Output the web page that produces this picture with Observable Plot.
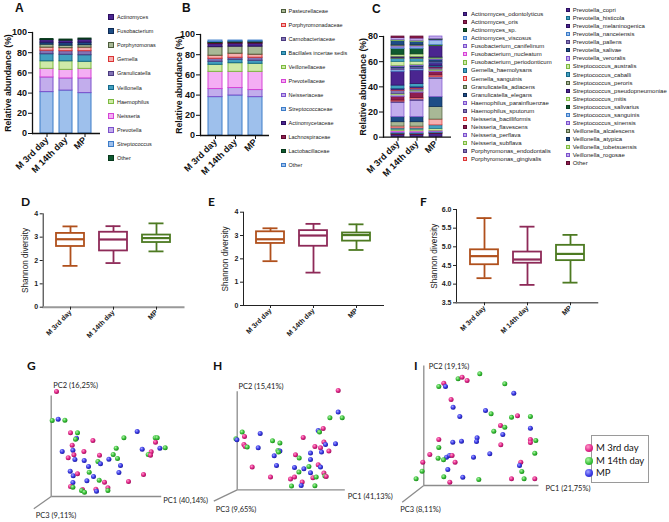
<!DOCTYPE html>
<html><head><meta charset="utf-8">
<script src="https://cdn.jsdelivr.net/npm/d3@7"></script>
<script src="https://cdn.jsdelivr.net/npm/@observablehq/plot@0.6"></script>
<style>
html,body{margin:0;padding:0;background:#fff;}
#root{position:relative;width:669px;height:522px;overflow:hidden;background:#fff;font-family:"Liberation Sans",Arial,Helvetica,sans-serif;color:#111;}
#root > *{position:absolute;}
.letter{font-weight:bold;font-size:12px;line-height:12px;}
.lg{white-space:nowrap;color:#222;}
</style></head><body><div id="root"></div>
<script>
// ---------------- DATA ----------------
const groups = ["M 3rd day", "M 14th day", "MP"];

// A: genus level relative abundance (%), stacked bottom -> top
const genusNames = ["Streptococcus","Prevotella","Neisseria","Haemophilus","Veillonella","Granulicatella","Gemella","Porphyromonas","Fusobacterium","Actinomyces","Other"];
const genusM3  = [41, 14.5, 8.5, 7.5, 7, 3.5, 3, 3, 2, 2.5, 1];
const genusM14 = [42.5, 12, 8.5, 8.5, 6.5, 3.5, 3, 2.5, 2.5, 2.5, 1];
const genusMP  = [40, 14.5, 9.5, 7, 6.5, 4, 3.5, 2.5, 2.5, 3, 1];
const genusLegend = ["Actinomyces","Fusobacterium","Porphyromonas","Gemella","Granulicatella","Veillonella","Haemophilus","Neisseria","Prevotella","Streptococcus","Other"];

// B: family level
const familyNames = ["Streptococcaceae","Neisseriaceae","Prevotellaceae","Veillonellaceae","Bacillales incertae sedis","Carnobacteriaceae","Porphyromonadaceae","Pasteurellaceae","Actinomycetaceae","Lachnospiraceae","Lactobacillaceae","Other"];
const familyM3  = [38, 8, 17, 7, 3, 3, 3, 8.5, 3, 1, 1, 1.5];
const familyM14 = [39.6, 7.4, 16, 8.6, 3.4, 2, 4, 7, 3, 1, 1, 1];
const familyMP  = [38, 7, 18, 8, 3, 3, 3, 8, 3, 1, 1, 1];
const familyLegend = ["Pasteurellaceae","Porphyromonadaceae","Carnobacteriaceae","Bacillales incertae sedis","Veillonellaceae","Prevotellaceae","Neisseriaceae","Streptococcaceae","Actinomycetaceae","Lachnospiraceae","Lactobacillaceae","Other"];

// C: species level
const speciesNames = ["Actinomyces_odontolyticus","Actinomyces_oris","Actinomyces_sp.","Actinomyces_viscosus","Fusobacterium_canifelinum","Fusobacterium_nucleatum","Fusobacterium_periodonticum","Gemella_haemolysans","Gemella_sanguinis","Granulicatella_adiacens","Granulicatella_elegans","Haemophilus_parainfluenzae","Haemophilus_sputorum","Neisseria_bacilliformis","Neisseria_flavescens","Neisseria_perflava","Neisseria_subflava","Porphyromonas_endodontalis","Porphyromonas_gingivalis","Prevotella_copri","Prevotella_histicola","Prevotella_melaninogenica","Prevotella_nanceiensis","Prevotella_pallens","Prevotella_salivae","Prevotella_veroralis","Streptococcus_australis","Streptococcus_caballi","Streptococcus_peroris","Streptococcus_pseudopneumoniae","Streptococcus_mitis","Streptococcus_salivarius","Streptococcus_sanguinis","Streptococcus_sinensis","Veillonella_alcalescens","Veillonella_atypica","Veillonella_tobetsuensis","Veillonella_rogosae","Other"];
const speciesM3  = [1.9,0.6,0.4,0.5,0.6,0.8,1.2,1.0,1.5,3.4,4.0,11.4,1.0,0.8,3.0,1.2,0.9,2.5,0.5,1.2,2.6,11.0,1.2,1.5,1.0,1.0,3.0,2.5,0.8,1.0,1.5,4.5,1.2,1.0,0.8,3.5,0.8,1.5,1.2];
const speciesM14 = [1.8,0.6,0.4,0.5,0.6,0.8,1.3,1.0,1.4,3.5,4.0,13.0,1.2,1.0,4.2,1.0,0.8,1.2,0.5,1.0,2.4,10.8,1.2,1.3,1.0,1.0,2.5,2.0,0.8,1.0,2.0,4.4,1.2,1.0,0.8,2.6,0.8,1.8,1.6];
const speciesMP  = [2.6,0.5,0.4,0.6,0.5,0.5,1.5,2.8,4.6,9.9,7.9,14.6,1.3,1.3,2.7,1.0,1.0,1.0,0.5,0.6,0.8,2.0,0.6,0.8,1.5,0.6,0.6,0.4,0.3,8.9,0.4,0.4,3.7,0.3,0.3,0.4,0.3,1.9,0];

// D-F: Shannon diversity, per group [min, q1, median, q3, max]
const shannonD = [[1.77,2.60,2.91,3.16,3.46],[1.89,2.41,2.90,3.21,3.47],[2.39,2.77,2.96,3.09,3.59]];
const shannonE = [[1.90,2.66,2.84,3.16,3.31],[1.41,2.54,3.00,3.21,3.50],[2.38,2.76,3.02,3.11,3.48]];
const shannonF = [[4.16,4.52,4.75,4.92,5.77],[3.98,4.56,4.66,4.86,5.54],[4.04,4.63,4.81,5.04,5.32]];

// G-I: PCA scores projected on the plane [group index, pc1, pc2]
const pcaG = [[0,5.3,105],[2,7,77.3],[1,1,76],[1,13.7,76.3],[0,19.3,63.7],[1,26.3,63.7],[2,25.3,58.3],[1,24.3,57.3],[0,41.7,56],[0,21,51.3],[2,11,45],[2,21.7,46.3],[0,32.7,45],[0,22.7,41.7],[2,23.7,37],[0,17,38.7],[0,48.3,41.3],[1,46.7,35],[2,49.3,32.7],[2,33,36],[2,37.3,30],[1,38,24.3],[2,19,25.3],[2,22,20.7],[0,26.3,22.7],[2,42.3,20],[2,21.7,14],[2,35.7,15.7],[1,48,16.3],[0,53.3,14.3],[0,19.3,10],[1,21.7,9.3],[0,31.3,7],[1,30.3,6],[1,33.3,4.3],[0,44.7,7.3],[2,45.3,5.3],[0,56.7,8.7],[1,56.7,6],[1,65,48.3],[1,62,42],[2,57.7,37.3],[1,66.3,38],[2,69.3,31],[2,67.7,24],[1,72.7,58.7],[2,86,65],[2,91,47.3],[0,77.3,15],[0,92.3,22],[1,104,58.7],[1,106,58.7],[0,104.3,54.3],[0,100,44.7],[1,97,42],[0,99.3,41.3],[2,108.7,48.3],[1,114,48.7]];
const pcaH = [[1,5,57.7],[0,7.3,53.3],[1,-1.3,51],[2,-0.3,50],[0,6.7,45.3],[0,8,43.3],[1,10,42.7],[2,23,56.3],[2,21,42],[1,35.3,49],[1,42.7,46.7],[1,40.7,39.3],[2,42.7,38.7],[1,41.3,37.7],[2,37,34],[2,39.3,24.3],[0,15,22.7],[0,33.3,12.7],[0,66,52.3],[0,58.3,35],[1,62,31.7],[2,66.7,21],[2,57.3,22.3],[1,61.7,17.7],[0,57.3,12.7],[0,53.3,10.7],[0,65,7.7],[2,64,4.3],[1,54.3,3.7],[0,101,99.3],[2,101,77.7],[1,92.7,72],[1,105,72],[2,81,59.3],[1,82.3,57.7],[0,86,61.3],[0,86.7,47.7],[2,88.3,45.3],[2,98.3,46],[0,77.7,43.3],[0,83.3,42],[0,91.7,38.7],[2,84.3,37.7],[2,73.3,36.7],[2,73.3,30.3],[1,71.7,23.3],[0,81,25],[2,83.3,22.7],[2,73.3,17],[0,86.7,16.7],[1,87.7,13.7],[0,89,13.3],[0,75.7,12],[1,79,12.7],[1,77.7,4]];
const pcaI = [[0,20,102.3],[1,15,99],[2,21.7,99],[1,34.3,106.7],[0,38.3,108.3],[0,43.3,105],[1,56,111.7],[1,81,101.7],[2,90,92.3],[0,27.3,86],[2,29.3,78.3],[2,36,69],[2,61.7,75],[1,67.3,71.7],[1,87.7,68.3],[0,76.7,60],[1,81,58.3],[1,70,54.3],[2,79,51],[2,53.3,47.7],[2,52.7,44],[0,77,40.7],[0,15,46],[2,29,43.3],[2,37.7,44.3],[1,15,38],[0,6,31],[1,14.3,27.3],[2,22.7,28.3],[2,25.7,30],[0,28.3,30],[1,19.7,25.7],[2,49.7,28.3],[2,66,31.7],[0,31.3,23.3],[0,-1,23.3],[1,-1.7,14.3],[1,-7.7,6.7],[2,24,16],[1,20,8.7],[0,26,3.3],[2,39,8.3],[1,55,6],[0,87.7,6.7],[0,106.6,46],[0,106.6,43],[1,112,45],[2,106.6,57.3],[1,106.6,69],[0,93.7,69.7],[1,111,32.3],[0,97,23.3],[2,95.7,20],[1,98,14],[0,111,6.7],[1,100.3,6.7]];
// axis extents of the projected 3-D axes: [pc1 length, pc2 length, pc3 dx, pc3 dy]
const pcaAxesG = [110, 101, -17.4, -12.3];
const pcaAxesH = [107.6, 98.6, -23.4, -11.4];
const pcaAxesI = [114.7, 120, -21.6, -16.7];
const pcaTitlesG = ["PC1 (40,14%)", "PC2 (16,25%)", "PC3 (9,11%)"];
const pcaTitlesH = ["PC1 (41,13%)", "PC2 (15,41%)", "PC3 (9,65%)"];
const pcaTitlesI = ["PC1 (21,75%)", "PC2 (19,1%)", "PC3 (8,11%)"];

// ---------------- STYLE ----------------
const FONT = '"Liberation Sans", Arial, Helvetica, sans-serif';
const PFONT = 'Lato, "Open Sans", sans-serif';
const pal = {
  dkpurple: ["#4a2590", "#2b0f60"],
  maroon:   ["#8e1d4e", "#5c0c30"],
  dkgreen:  ["#0f5a30", "#08381c"],
  blue:     ["#9ec0ec", "#3c7cc8"],
  lavender: ["#c2adec", "#7c52cc"],
  pink:     ["#f4aef4", "#d644d6"],
  ltgreen:  ["#cfe9a8", "#7cba40"],
  teal:     ["#42a0c0", "#16698a"],
  red:      ["#f4b0b0", "#dc3434"],
  olive:    ["#a8b896", "#4d5c3c"],
  navy:     ["#1d4d86", "#0e2b55"],
  pgrey:    ["#8273b4", "#4b3b80"]
};
const genusColor = {Streptococcus:"blue", Prevotella:"lavender", Neisseria:"pink", Haemophilus:"ltgreen", Veillonella:"teal", Granulicatella:"pgrey", Gemella:"red", Porphyromonas:"olive", Fusobacterium:"navy", Actinomyces:"dkpurple", Other:"dkgreen"};
const familyColor = {"Streptococcaceae":"blue","Neisseriaceae":"lavender","Prevotellaceae":"pink","Veillonellaceae":"ltgreen","Bacillales incertae sedis":"teal","Carnobacteriaceae":"pgrey","Porphyromonadaceae":"red","Pasteurellaceae":"olive","Actinomycetaceae":"dkpurple","Lachnospiraceae":"maroon","Lactobacillaceae":"dkgreen","Other":"blue"};
const speciesColor = ["dkpurple","maroon","dkgreen","blue","lavender","pink","ltgreen","teal","red","olive","navy","lavender","pgrey","red","maroon","lavender","ltgreen","pgrey","red","dkpurple","teal","dkpurple","blue","pgrey","navy","lavender","ltgreen","teal","olive","dkpurple","ltgreen","dkgreen","blue","lavender","olive","navy","ltgreen","lavender","maroon"];
const boxColor = {"M 3rd day":"#b0501c","M 14th day":"#8e2a58","MP":"#4d7a22"};
const ball = [["#ff9ccc","#e2288a","#a0105c"],["#b0f4a8","#3cc23c","#1a8a1a"],["#a4a4ff","#3c3ce6","#1c1ca0"]];

const root = document.getElementById("root");
function put(node, left, top){ node.style.left = left + "px"; node.style.top = top + "px"; root.appendChild(node); return node; }
function div(html, cls, css){ const d = document.createElement("div"); if (cls) d.className = cls; d.textContent = html; if (css) Object.assign(d.style, css); return d; }

// gradient defs for spheres
const defs = d3.select(root).append("svg").attr("width",0).attr("height",0).style("left","0px").style("top","0px").append("defs");
ball.forEach((c,i) => {
  const g = defs.append("radialGradient").attr("id","ball"+i).attr("cx","38%").attr("cy","35%").attr("r","65%");
  g.append("stop").attr("offset","0%").attr("stop-color",c[0]);
  g.append("stop").attr("offset","55%").attr("stop-color",c[1]);
  g.append("stop").attr("offset","100%").attr("stop-color",c[2]);
});

// ---------------- STACKED BARS ----------------
function stackRows(names, series){
  const out = [];
  series.forEach((vals, gi) => names.forEach((n, i) => out.push({group: groups[gi], name: n, idx: i, value: vals[i]})));
  return out;
}
function stacked(rows, colorOf, o){
  return Plot.plot({
    width: o.width, height: o.height, marginLeft: o.ml, marginRight: o.mr, marginTop: o.mt, marginBottom: o.mb,
    style: {fontFamily: FONT, fontSize: "9px", fontWeight: "bold", color: "#111", background: "transparent", overflow: "visible"},
    x: {domain: groups, paddingInner: 0.3, paddingOuter: 0.35, label: null},
    y: {domain: o.ydomain, label: null},
    color: {type: "identity"},
    marks: [
      Plot.barY(rows, Plot.stackY({x: "group", y: "value", z: "name", fill: d => pal[colorOf(d)][0], stroke: d => pal[colorOf(d)][1], strokeWidth: o.sw})),
      Plot.frame({anchor: "left", stroke: "#111", strokeWidth: 1.3}),
      Plot.ruleY([o.ydomain[0]], {stroke: "#111", strokeWidth: 1.3}),
      Plot.axisY({ticks: o.yticks, tickSize: 4, tickPadding: 1.5, label: null}),
      Plot.axisX({tickRotate: -45, tickSize: 4, tickPadding: 1, label: null}),
      Plot.text(["Relative abundance (%)"], {text: d => d, frameAnchor: "left", textAnchor: "middle", dx: o.tdx, rotate: -90, fontSize: 8.7, fontWeight: "bold"})
    ]
  });
}
put(stacked(stackRows(genusNames, [genusM3, genusM14, genusMP]), d => genusColor[d.name],
  {width: 105, height: 180, ml: 32, mr: 5, mt: 32, mb: 47, ydomain: [0,100], yticks: [0,20,40,60,80,100], sw: 1, tdx: -24.5}), 0, 0);
put(stacked(stackRows(familyNames, [familyM3, familyM14, familyMP]), d => familyColor[d.name],
  {width: 106, height: 182, ml: 32, mr: 5, mt: 34, mb: 47, ydomain: [0,100], yticks: [0,20,40,60,80,100], sw: 1, tdx: -21}), 168, 0);
put(stacked(stackRows(speciesNames, [speciesM3, speciesM14, speciesMP]), d => speciesColor[d.idx],
  {width: 105, height: 184, ml: 32, mr: 5, mt: 36, mb: 47.3, ydomain: [0,80], yticks: [0,20,40,60,80], sw: 0.7, tdx: -20}), 351, 0);

// legends A, B, C
function legend(items, colorOf, sx, tx, y0, dy, size, fs){
  items.forEach((name, i) => {
    const y = y0 + i * dy;
    const c = pal[colorOf(name, i)];
    put(div("", null, {width: size + "px", height: size + "px", boxSizing: "border-box", background: c[0], border: "1px solid " + c[1]}), sx, y - size / 2);
    put(div(name, "lg", {fontSize: fs + "px", lineHeight: "10px", height: "10px"}), tx, y - 5);
  });
}
legend(genusLegend, n => genusColor[n], 108.3, 117, 17, 14.1, 5.7, 5.5);
legend(familyLegend, n => familyColor[n], 281, 288.5, 11, 14, 4.8, 5.5);
legend(speciesNames.slice(0,19), (n,i) => speciesColor[i], 463.3, 471, 14, 8.07, 4.2, 6);
legend(speciesNames.slice(19), (n,i) => speciesColor[i + 19], 566, 572.7, 10, 8.07, 4.2, 6);

// ---------------- BOX PLOTS ----------------
function boxRows(stats){ return stats.map((s, i) => ({group: groups[i], min: s[0], q1: s[1], median: s[2], q3: s[3], max: s[4]})); }
function boxPlot(stats, o){
  const rows = boxRows(stats);
  const col = d => boxColor[d.group];
  return Plot.plot({
    width: o.width, height: o.height, marginLeft: o.ml, marginRight: o.mr, marginTop: o.mt, marginBottom: o.mb,
    style: {fontFamily: FONT, fontSize: "7px", fontWeight: "bold", color: "#222", background: "transparent", overflow: "visible"},
    x: {domain: groups, paddingInner: 0.35, paddingOuter: 0.3, label: null},
    y: {domain: o.ydomain, label: null},
    color: {type: "identity"},
    marks: [
      Plot.ruleX(rows, {x: "group", y1: "min", y2: "max", stroke: col, strokeWidth: 1.8}),
      Plot.barY(rows, {x: "group", y1: "q1", y2: "q3", fill: "#fff", stroke: col, strokeWidth: 1.8}),
      Plot.tickY(rows, {x: "group", y: "median", stroke: col, strokeWidth: 2.2}),
      Plot.tickY(rows, {x: "group", y: "min", stroke: col, strokeWidth: 1.8, inset: 6.5}),
      Plot.tickY(rows, {x: "group", y: "max", stroke: col, strokeWidth: 1.8, inset: 6.5}),
      Plot.frame({anchor: "left", stroke: "#222", strokeWidth: 1}),
      Plot.frame({anchor: "bottom", stroke: o.base, strokeWidth: o.baseW}),
      Plot.axisY({ticks: o.yticks, tickFormat: o.fmt, tickSize: 3, tickPadding: 2, label: null}),
      Plot.axisX({tickRotate: -45, tickSize: 3, tickPadding: 1, label: null}),
      Plot.text(["Shannon diversity"], {text: d => d, frameAnchor: "left", textAnchor: "middle", dx: o.tdx, rotate: -90, fontSize: 8.2, fontWeight: "normal", fill: "#222"})
    ]
  });
}
put(boxPlot(shannonD, {width: 188, height: 160, ml: 42.7, mr: 5, mt: 18.3, mb: 48.3, ydomain: [0,4], yticks: [0,1,2,3,4], fmt: d3.format("d"), base: "#999", baseW: 2, tdx: -17.7}), 0, 195);
put(boxPlot(shannonE, {width: 188, height: 160, ml: 43, mr: 5, mt: 16.7, mb: 50, ydomain: [0,4], yticks: [0,1,2,3,4], fmt: d3.format("d"), base: "#222", baseW: 1, tdx: -18}), 200, 195);
put(boxPlot(shannonF, {width: 189, height: 160, ml: 43, mr: 5, mt: 14, mb: 52.7, ydomain: [3.5,6], yticks: [3.5,4,4.5,5,5.5,6], fmt: d3.format(".1f"), base: "#666", baseW: 1.5, tdx: -22.5}), 413, 195);

// ---------------- PCA 3-D SCATTERS ----------------
function pcaPlot(points, axes, titles, o){
  const rows = points.map(p => ({g: p[0], group: groups[p[0]], pc1: p[1], pc2: p[2]}));
  const axisRows = [
    {x2: axes[0], y2: 0}, {x2: 0, y2: axes[1]}, {x2: axes[2], y2: axes[3]}
  ];
  const titleRows = titles.map((t, i) => ({t, x: axisRows[i].x2, y: axisRows[i].y2, dx: o.off[i][0], dy: o.off[i][1]}));
  return Plot.plot({
    width: o.width, height: o.height, margin: 0,
    x: {domain: o.xd, axis: null}, y: {domain: o.yd, axis: null},
    color: {type: "identity"},
    style: {fontFamily: PFONT, fontSize: "7.5px", color: "#222", background: "transparent", overflow: "visible"},
    marks: [
      Plot.link(axisRows, {x1: () => 0, y1: () => 0, x2: "x2", y2: "y2", stroke: "#8c8c8c", strokeWidth: 1.3}),
      ...titleRows.map(r => Plot.text([r], {x: "x", y: "y", text: "t", textAnchor: "start", dx: r.dx, dy: r.dy, fill: "#222"})),
      Plot.dot(rows, {x: "pc1", y: "pc2", r: 2.5, fill: d => `url(#ball${d.g})`, stroke: "none"})
    ]
  });
}
put(pcaPlot(pcaG, pcaAxesG, pcaTitlesG, {width: 205, height: 167, xd: [-50.7, 154.3], yd: [-26, 141], off: [[2,4],[2,-10],[2,7]]}), 0, 355);
put(pcaPlot(pcaH, pcaAxesH, pcaTitlesH, {width: 215, height: 167, xd: [-46.7, 168.3], yd: [-32.7, 134.3], off: [[3,7],[1.3,-5],[2,8]]}), 190, 355);
put(pcaPlot(pcaI, pcaAxesI, pcaTitlesI, {width: 215, height: 167, xd: [-43.3, 171.7], yd: [-37, 130], off: [[7,3],[5,1],[-2,7]]}), 380, 355);

// legend for G-I
put(div("", null, {width: "58px", height: "48px", boxSizing: "border-box", border: "1px solid #9a9a9a", background: "#fff"}), 591, 435);
groups.forEach((g, i) => {
  const y = 448 + i * 12.5;
  put(div("", null, {width: "8px", height: "8px", borderRadius: "50%", background: `radial-gradient(circle at 38% 35%, ${ball[i][0]} 0%, ${ball[i][1]} 55%, ${ball[i][2]} 100%)`}), 585, y - 4);
  put(div(g, "lg", {fontFamily: PFONT, fontSize: "9.5px", lineHeight: "12px", height: "12px", color: "#111"}), 596, y - 6);
});

// panel letters
[["A",15,1.7,FONT],["B",182,1.7,FONT],["C",372,3,FONT],["D",21,196,PFONT],["E",208,196,PFONT],["F",420,196,PFONT],["G",27,360,PFONT],["H",213,360,PFONT],["I",414,360,PFONT]]
  .forEach(([t,x,y,f]) => put(div(t, "letter", {fontFamily: f}), x, y));
</script></body></html>
